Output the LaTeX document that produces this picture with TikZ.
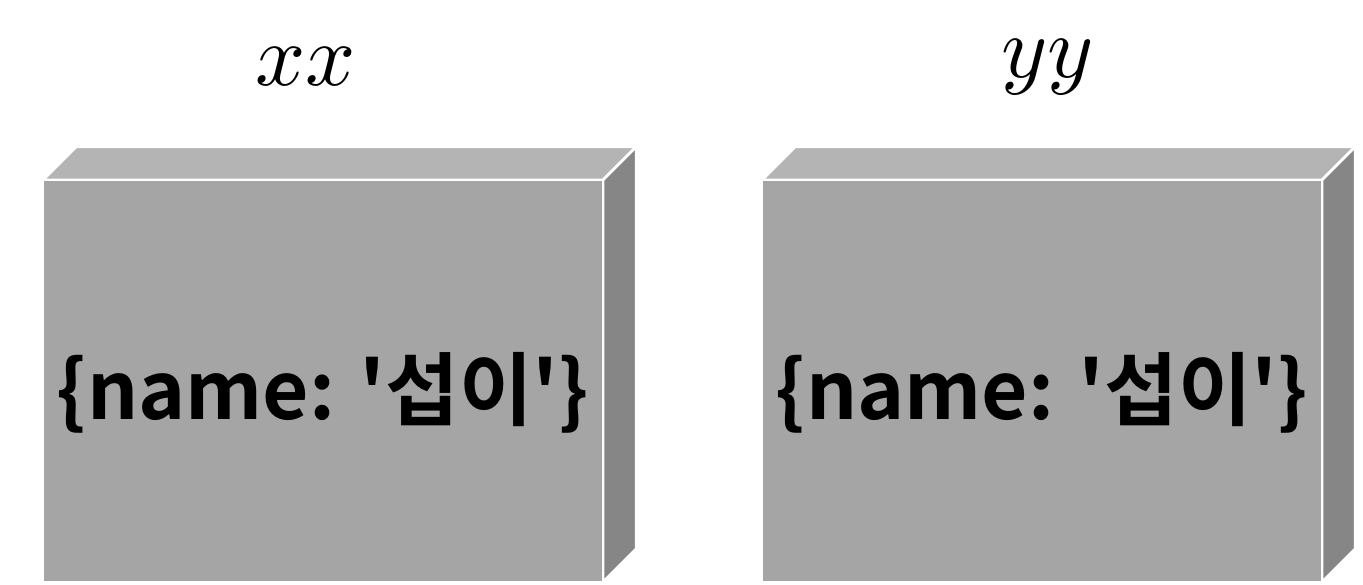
\documentclass[tikz,border=0pt]{standalone}
\usepackage{fontspec}
\usepackage{xcolor}
\newfontfamily\kofont{Noto Sans CJK KR}[BoldFont={Noto Sans CJK KR Bold}]
\definecolor{topgray}{HTML}{B4B4B4}
\definecolor{frontgray}{HTML}{A5A5A5}
\definecolor{sidegray}{HTML}{868686}
\tikzset{
  face/.style={draw=white,line width=2.5pt,line join=miter},
  objtext/.style={font=\kofont\bfseries\fontsize{80}{90}\selectfont,inner sep=0pt,anchor=base},
  varlabel/.style={inner sep=0pt}
}

\begin{document}
\begin{tikzpicture}[x=1pt,y=-1pt]
\useasboundingbox (0,0) rectangle (1363,585);
\foreach \x/\nm/\lab/\lx in {43/left/xx/306, 762/right/yy/1048} {
  \filldraw[face,fill=topgray] (\x,180) -- ++(33,-33) -- ++(560,0) -- ++(-33,33) -- cycle;
  \filldraw[face,fill=sidegray] (\x+560,180) -- ++(33,-33) -- ++(0,402) -- ++(-33,33) -- cycle;
  \filldraw[face,fill=frontgray] (\x,180) rectangle ++(560,402);
  \node[objtext] (\nm text) at (\x+280,419) {\{name: \textquotesingle 섭이\textquotesingle\}};
  \node[varlabel] (\nm label) at (\lx,67) {\scalebox{8.8}{$\lab$}};
}
\end{tikzpicture}
\end{document}
